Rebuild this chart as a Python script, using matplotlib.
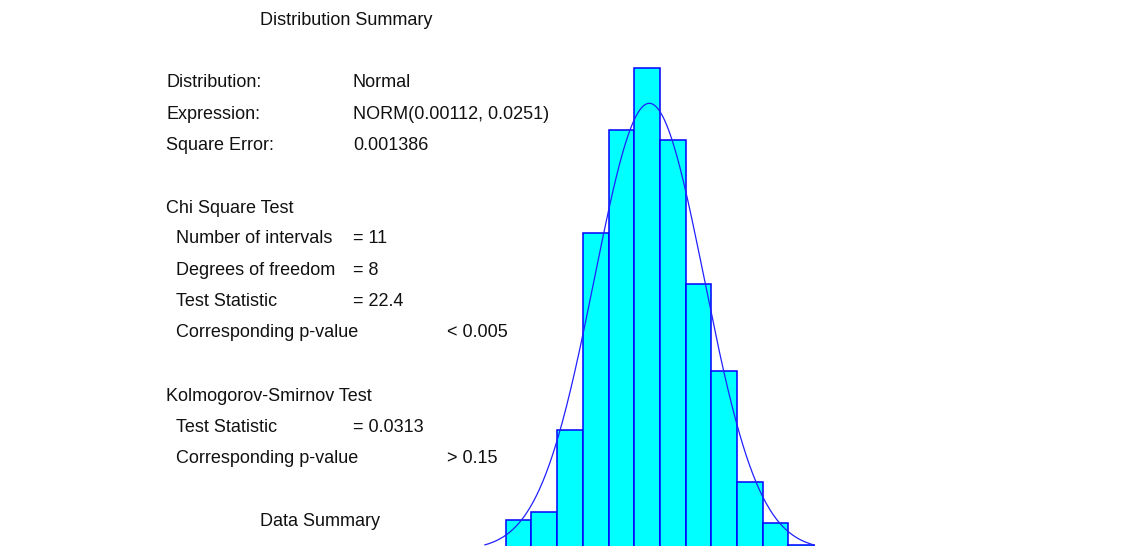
import numpy as np
import matplotlib
matplotlib.use("Agg")
import matplotlib.pyplot as plt

plt.rcParams['font.family'] = ['Liberation Sans', 'DejaVu Sans']

# Fitted distribution parameters
mu = 0.00112
sigma = 0.0251

# Histogram: first bin edge, bin width and relative frequency per bin
bin_start = -0.0644
bin_width = 0.01173
rel_freq = [0.0125, 0.0160, 0.0500, 0.1323, 0.1753, 0.2013,
            0.1712, 0.1110, 0.0748, 0.0283, 0.0113, 0.0021]

# Range over which the fitted density is drawn
curve_range = (-0.0739, 0.0763)

summary_rows = [
    ("Distribution:", "Normal", None),
    ("Expression:", "NORM(0.00112, 0.0251)", None),
    ("Square Error:", "0.001386", None),
]
chi_rows = [
    ("Number of intervals", "= 11", None),
    ("Degrees of freedom", "= 8", None),
    ("Test Statistic", "= 22.4", None),
    ("Corresponding p-value", None, "< 0.005"),
]
ks_rows = [
    ("Test Statistic", "= 0.0313", None),
    ("Corresponding p-value", None, "> 0.15"),
]

W, H = 1124, 546
fig = plt.figure(figsize=(W / 100, H / 100), dpi=100)
fig.patch.set_facecolor("white")

ax = fig.add_axes([0, 0, 1, 1])
ax.set_axis_off()

edges = bin_start + bin_width * np.arange(len(rel_freq) + 1)
ax.bar(edges[:-1], rel_freq, width=bin_width, align="edge",
       color="#00FFFF", edgecolor="#0000FF", linewidth=1.1, zorder=2)

xs = np.linspace(curve_range[0], curve_range[1], 400)
pdf = np.exp(-0.5 * ((xs - mu) / sigma) ** 2) / (sigma * np.sqrt(2 * np.pi))
ax.plot(xs, pdf * bin_width, color="#2020FF", linewidth=0.9, zorder=3)

# px scale: 2191 px per x unit, 2396 px per frequency unit
ax.set_xlim(mu - 649.3 / 2191, mu + (W - 649.3) / 2191)
ax.set_ylim(4 / 2396, 550 / 2396)


def put(x_px, y_px, s):
    fig.text(x_px / W, 1 - y_px / H, s, fontsize=13, color="#111111",
             ha="left", va="baseline")


put(260, 25, "Distribution Summary")

y = 87.3
for label, val, far in summary_rows:
    put(166, y, label)
    put(353, y, val)
    y += 31.3

put(166, 212.7, "Chi Square Test")
y = 243.3
for label, val, far in chi_rows:
    put(176, y, label)
    if val:
        put(353, y, val)
    if far:
        put(447, y, far)
    y += 31.3

put(166, 401, "Kolmogorov-Smirnov Test")
y = 432
for label, val, far in ks_rows:
    put(176, y, label)
    if val:
        put(353, y, val)
    if far:
        put(447, y, far)
    y += 31.3

put(260, 526, "Data Summary")

fig.savefig("out.png", dpi=100, facecolor="white")
